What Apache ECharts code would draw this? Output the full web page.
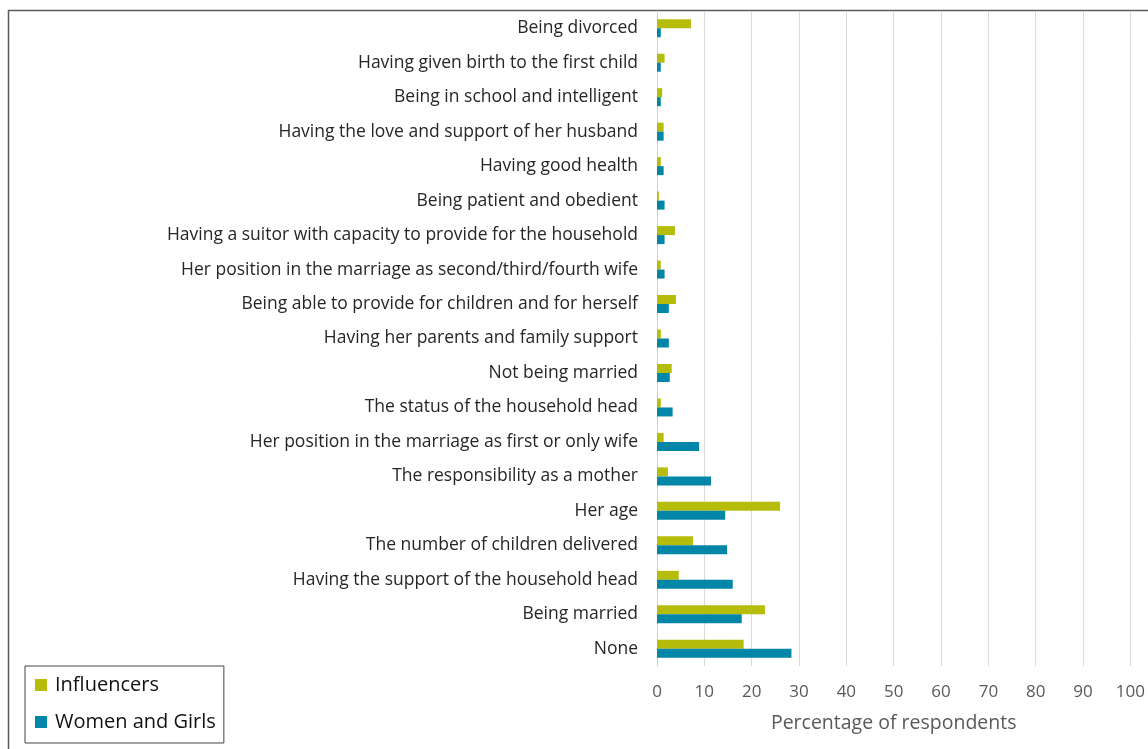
<!DOCTYPE html>
<html>
<head>
<meta charset="utf-8">
<script src="https://cdn.jsdelivr.net/npm/echarts@6/dist/echarts.min.js"></script>
<style>
  html, body { margin: 0; padding: 0; background: #fff; }
  #chart { width: 1148px; height: 749px; }
</style>
</head>
<body>
<div id="chart"></div>
<script>
// Reasons, listed top to bottom
const categories = [
  'Being divorced',
  'Having given birth to the first child',
  'Being in school and intelligent',
  'Having the love and support of her husband',
  'Having good health',
  'Being patient and obedient',
  'Having a suitor with capacity to provide for the household',
  'Her position in the marriage as second/third/fourth wife',
  'Being able to provide for children and for herself',
  'Having her parents and family support',
  'Not being married',
  'The status of the household head',
  'Her position in the marriage as first or only wife',
  'The responsibility as a mother',
  'Her age',
  'The number of children delivered',
  'Having the support of the household head',
  'Being married',
  'None'
];

// Percentage of respondents per group
const influencers = [7.2, 1.6, 1.1, 1.4, 0.8, 0.4, 3.8, 0.8, 4.0, 0.8, 3.1, 0.8, 1.4, 2.3, 26.0, 7.6, 4.6, 22.8, 18.3];
const womenAndGirls = [0.8, 0.8, 0.8, 1.4, 1.4, 1.6, 1.6, 1.6, 2.5, 2.5, 2.7, 3.3, 8.9, 11.4, 14.4, 14.8, 16.0, 17.9, 28.4];

const xTicks = [0, 10, 20, 30, 40, 50, 60, 70, 80, 90, 100];

const FONT = '"Open Sans", sans-serif';

const chart = echarts.init(document.getElementById('chart'), null, { renderer: 'canvas' });

chart.setOption({
  backgroundColor: '#ffffff',
  animation: false,
  graphic: [
    {
      type: 'rect',
      shape: { x: 8.5, y: 10.5, width: 1160, height: 760 },
      style: { fill: 'none', stroke: '#5a5a5a', lineWidth: 1.5 },
      silent: true,
      z: -1
    }
  ],
  legend: {
    orient: 'vertical',
    left: 25,
    top: 666,
    padding: [9, 8, 11, 10],
    itemGap: 17,
    itemWidth: 12,
    itemHeight: 12,
    icon: 'rect',
    borderColor: '#444',
    borderWidth: 1,
    textStyle: { fontFamily: FONT, fontSize: 20, color: '#111', padding: [0, 0, 0, 3] },
    data: ['Influencers', 'Women and Girls']
  },
  grid: {
    left: 657,
    right: 17,
    top: 11,
    height: 655,
    containLabel: false
  },
  xAxis: {
    type: 'value',
    min: 0,
    max: 100,
    interval: 10,
    name: 'Percentage of respondents',
    nameLocation: 'middle',
    nameGap: 47,
    nameTextStyle: { fontFamily: FONT, fontSize: 19.5, color: '#595959' },
    axisLine: { show: false },
    axisTick: { show: false },
    axisLabel: {
      margin: 18,
      fontFamily: FONT,
      fontSize: 17,
      color: '#595959',
      formatter: v => (xTicks.includes(v) ? String(v) : '')
    },
    splitLine: { show: true, lineStyle: { color: '#d9d9d9', width: 1 } }
  },
  yAxis: {
    type: 'category',
    inverse: true,
    data: categories,
    axisLine: { show: true, lineStyle: { color: '#d0d0d0' } },
    axisTick: { show: false },
    axisLabel: {
      margin: 19,
      padding: [2, 0, 0, 0],
      fontFamily: FONT,
      fontSize: 17.5,
      color: '#262626'
    }
  },
  series: [
    {
      name: 'Influencers',
      type: 'bar',
      data: influencers,
      itemStyle: { color: '#b5bd0a' },
      barWidth: 9,
      barGap: '0%'
    },
    {
      name: 'Women and Girls',
      type: 'bar',
      data: womenAndGirls,
      itemStyle: { color: '#0286a8' },
      barWidth: 9,
      barGap: '0%'
    }
  ]
});
</script>
</body>
</html>
